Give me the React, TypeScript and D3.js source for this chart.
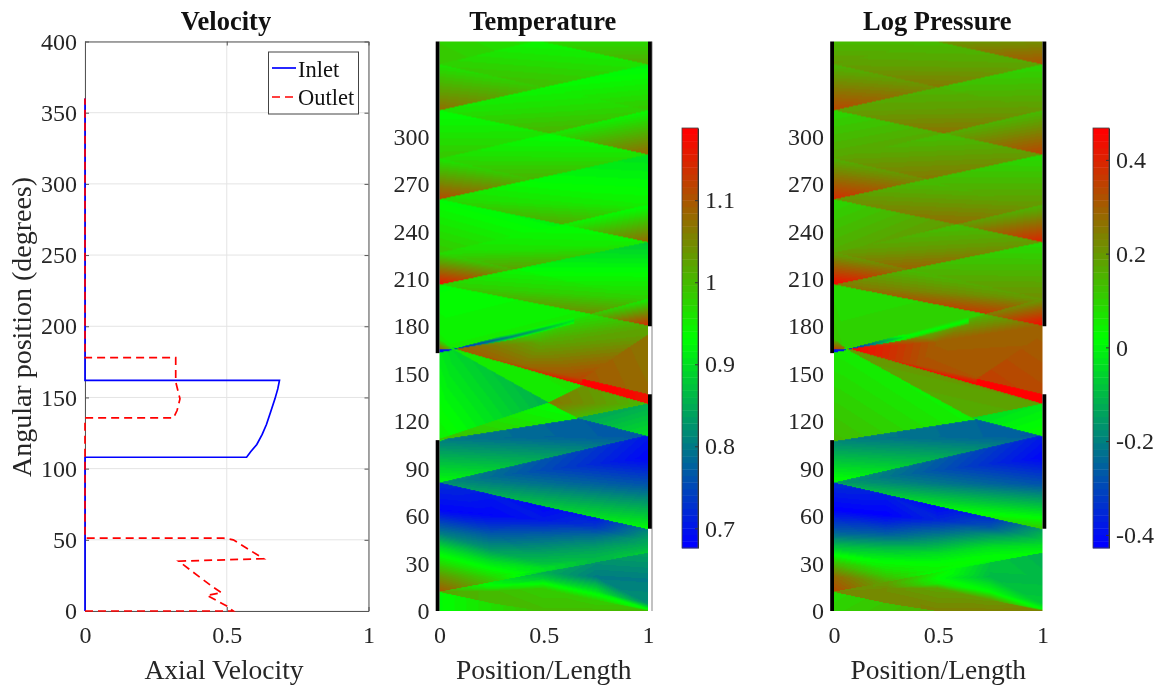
import React, { useEffect, useMemo, useRef } from 'react';
import { axisBottom, axisLeft, axisRight, axisTop, line, range, rgb, scaleLinear, select } from 'd3';

// ---- velocity profiles: [axial velocity, angle in degrees]
const inletVelocity = [
  [0, 0], [0, 108], [0.57, 108], [0.585, 112], [0.606, 117], [0.625, 124], [0.64, 131], [0.655, 140], [0.67, 149], [0.68, 156], [0.686, 162],
  [0, 162], [0, 360],
];
const outletVelocity = [
  [0, 0], [0.523, 0], [0.5, 3.5], [0.43, 11], [0.482, 12.8], [0.45, 17], [0.33, 35], [0.63, 36.7], [0.523, 50], [0.488, 51.2],
  [0, 51.2], [0, 135.6], [0.312, 135.6], [0.325, 141], [0.335, 149], [0.32, 161], [0.32, 178], [0, 178], [0, 360],
];

const velocityXTicks = [0, 0.5, 1];
const velocityYTicks = [0, 50, 100, 150, 200, 250, 300, 350, 400];
const angleTicks = [0, 30, 60, 90, 120, 150, 180, 210, 240, 270, 300];
const positionTicks = [0, 0.5, 1];

// ---- port openings (black bars), degrees
const leftPorts = [[0, 108], [163, 360]];
const rightPorts = [[52, 137], [180, 360]];

// ---- wave diagram upper part: same shapes in both fields, corner values differ
const waveCells = [
  [[0.47, 360], [1, 360], [1, 345]],
  [[0, 360], [0.47, 360], [0, 345]],
  [[0, 345], [0.47, 360], [1, 345], [0.5, 330.5]],
  [[0, 345], [0, 316], [0.5, 330.5]],
  [[0.5, 330.5], [1, 345], [1, 316]],
  [[0, 316], [0.5, 330.5], [1, 316], [0.526, 301.3]],
  [[0.526, 301.3], [1, 316], [1, 288]],
  [[0, 316], [0, 285.5], [0.526, 301.3]],
  [[0, 285.5], [0.526, 301.3], [1, 288], [0.45, 272.4]],
  [[0, 285.5], [0.45, 272.4], [0, 259.6]],
  [[0, 259.6], [0.45, 272.4], [1, 256.4], [0.585, 243.8]],
  [[0.45, 272.4], [1, 288], [1, 256.4]],
  [[0.585, 243.8], [1, 256.4], [1, 232.6]],
  [[0, 259.6], [0, 226], [0.585, 243.8]],
  [[0, 226], [0.585, 243.8], [1, 232.6], [0.364, 215.4]],
  [[0, 226], [0.364, 215.4], [0, 205.6]],
  [[0.364, 215.4], [1, 232.6], [1, 197]],
  [[0, 205.6], [0.364, 215.4], [1, 197], [0.72, 187.2]],
  [[0.72, 187.2], [1, 197], [1, 180]],
  [[0, 205.6], [0.72, 187.2], [0.06, 165.3], [0, 172]],
  [[0, 172], [0.06, 165.3], [0, 165]],
  [[0, 108.4], [0.67, 122], [1, 110.9], [0, 80.9]],
  [[0, 80.9], [1, 110.9], [1, 97], [1, 80], [1, 51.7]],
  [[0, 12.2], [0, 0], [0.5, 0]],
];
const waveTemperature = [
  [0.97, 0.97, 1.02],
  [0.98, 0.96, 0.99],
  [0.98, 0.94, 0.96, 1.0],
  [0.96, 1.08, 0.99],
  [0.94, 0.92, 0.99],
  [0.96, 0.94, 0.98, 1.01],
  [0.96, 0.94, 1.09],
  [0.93, 0.99, 0.96],
  [0.97, 0.93, 0.96, 1.01],
  [0.96, 1.0, 1.12],
  [0.97, 0.93, 0.95, 1.02],
  [0.93, 0.9, 0.95],
  [0.95, 0.93, 1.09],
  [0.93, 0.99, 0.92],
  [0.97, 0.93, 0.95, 1.03],
  [0.97, 1.01, 1.18],
  [0.93, 0.88, 0.98],
  [0.98, 0.94, 0.98, 1.05],
  [0.99, 0.95, 1.15],
  [0.93, 0.95, 0.95, 0.95],
  [0.95, 1.0, 1.1],
  [0.8, 0.77, 0.76, 0.93],
  [0.82, 0.7, 0.68, 0.76, 0.93],
  [0.93, 0.93, 1.0],
];
const wavePressure = [
  [0.2, 0.22, 0.33],
  [0.14, 0.14, 0.2],
  [0.19, 0.14, 0.18, 0.26],
  [0.15, 0.35, 0.22],
  [0.14, 0.09, 0.2],
  [0.19, 0.15, 0.2, 0.27],
  [0.17, 0.14, 0.36],
  [0.09, 0.18, 0.17],
  [0.19, 0.13, 0.2, 0.26],
  [0.16, 0.22, 0.4],
  [0.21, 0.13, 0.2, 0.28],
  [0.14, 0.08, 0.2],
  [0.2, 0.15, 0.42],
  [0.09, 0.17, 0.2],
  [0.2, 0.13, 0.2, 0.3],
  [0.18, 0.25, 0.47],
  [0.15, 0.08, 0.22],
  [0.26, 0.14, 0.2, 0.38],
  [0.25, 0.2, 0.47],
  [0.08, 0.1, 0.1, 0.12],
  [0.12, 0.3, 0.38],
  [-0.2, -0.25, -0.27, 0.04],
  [-0.15, -0.38, -0.42, -0.28, 0.12],
  [0.08, 0.1, 0.16],
];

// ---- lower fans, sampled on columns of position
const fanX = [0, 0.25, 0.5, 0.75, 1];
const upperFanDeg = [
  [80.9, 64, 49.2, 40.7, 35.5, 30.2, 21.7, 12.2],
  [73.5, 60.8, 49.2, 38.6, 31.2, 27, 21.7, 18.3],
  [66.1, 57.7, 47.1, 36.5, 30.2, 27, 25.5, 24.5],
  [58.9, 53.4, 47.1, 40.7, 36.5, 33.4, 31.2, 30.4],
  [51.7, 49.2, 45, 41.8, 39.7, 38.2, 37.2, 36.5],
];
const upperFanTemperature = [
  [0.72, 0.68, 0.8, 0.89, 0.93, 0.97, 1.04, 1.1],
  [0.7, 0.68, 0.76, 0.83, 0.9, 0.93, 0.97, 0.99],
  [0.68, 0.7, 0.78, 0.84, 0.87, 0.9, 0.9, 0.88],
  [0.7, 0.73, 0.79, 0.83, 0.85, 0.86, 0.86, 0.86],
  [0.8, 0.82, 0.84, 0.85, 0.86, 0.87, 0.88, 0.88],
];
const upperFanPressure = [
  [-0.35, -0.43, -0.25, -0.09, 0.02, 0.13, 0.28, 0.34],
  [-0.38, -0.43, -0.27, -0.08, 0.02, 0.06, 0.12, 0.17],
  [-0.42, -0.36, -0.2, -0.04, 0.02, 0.04, 0.03, 0],
  [-0.35, -0.28, -0.15, -0.04, 0, 0.02, 0, -0.02],
  [-0.15, -0.12, -0.08, -0.04, -0.02, 0, 0.02, 0.02],
];
const lowerFanDeg = [
  [12.2, 12.2, 12.2, 12.2, 12.2],
  [18.3, 16.4, 14.3, 12.2, 5.1],
  [24.5, 20.7, 17.5, 14.3, 0],
  [30.4, 21.7, 12.2, 6.9, 0],
  [36.5, 19.6, 4.8, 1.2, 0],
];
const lowerFanTemperature = [
  [1.02, 1.02, 1.02, 1.02, 1.02],
  [0.92, 0.93, 0.96, 1.0, 1.0],
  [0.85, 0.88, 0.93, 0.98, 1.0],
  [0.82, 0.8, 0.91, 0.98, 1.0],
  [0.84, 0.8, 0.82, 0.93, 1.0],
];
const lowerFanPressure = [
  [0.22, 0.22, 0.22, 0.22, 0.22],
  [0.2, 0.2, 0.22, 0.22, 0.22],
  [0.05, 0.02, 0.05, 0.18, 0.24],
  [-0.08, -0.1, 0.02, 0.2, 0.24],
  [-0.12, -0.1, -0.07, 0.02, 0.25],
];

// ---- middle section, [position, angle, value]: differs between the two fields
const temperatureCells = [
  [[0.5, 170, 1.02], [0.07, 165.5, 1.1], [0.4, 176.5, 0.96], [0.72, 187.2, 0.96], [1, 180, 1.02], [1, 174, 1.03], [0.69, 146.5, 1.12], [0.4, 155.4, 1.08], [0.07, 165.5, 1.1]],
  [[0.69, 146.5, 1.1], [1, 174, 1.07], [1, 137, 1.08]],
  [[0.07, 165.5, 1.1], [0.4, 155.4, 1.08], [0.4, 153.1, 1.14]],
  [[0.4, 155.4, 1.08], [0.69, 146.5, 1.12], [0.69, 142.2, 1.2], [0.4, 153.1, 1.14]],
  [[0.69, 146.5, 1.2], [1, 137, 1.17], [1, 130.6, 1.17], [0.69, 142.2, 1.2]],
  [[0, 108.4, 0.95], [0, 163, 0.91], [0.07, 165.5, 0.89], [0.53, 131.7, 0.85]],
  [[0.07, 165.5, 0.95], [0.69, 142.2, 0.96], [0.53, 131.7, 0.95]],
  [[0, 108.4, 1.0], [0.53, 131.7, 0.93], [0.67, 122, 0.94]],
  [[0.53, 131.7, 1.07], [0.69, 142.2, 1.04], [1, 130.6, 1.0], [0.67, 122, 1.0]],
  [[0.67, 122, 0.84], [1, 130.6, 0.85], [1, 110.9, 0.9]],
  [[0.06, 165.3, 0.7], [0.35, 175.5, 0.95], [0.35, 173.5, 0.8], [0.35, 171.5, 0.95]],
  [[0.35, 175.5, 0.95], [0.64, 185.5, 0.95], [0.64, 183.5, 0.9], [0.35, 173.5, 0.8]],
  [[0.35, 173.5, 0.8], [0.64, 183.5, 0.9], [0.64, 181.5, 0.95], [0.35, 171.5, 0.95]],
  [[0, 163.5, 0.7], [0, 165.5, 0.7], [0.07, 165, 0.72]],
];
const pressureCells = [
  [[0.5, 170, 0.3], [0.07, 165.5, 0.47], [0.4, 176.5, 0.12], [0.72, 187.2, 0.15], [1, 180, 0.3], [1, 174, 0.3], [0.69, 146.5, 0.32], [0.4, 155.4, 0.33], [0.07, 165.5, 0.47]],
  [[0.69, 146.5, 0.36], [1, 174, 0.3], [1, 137, 0.34]],
  [[0.07, 165.5, 0.38], [0.4, 155.4, 0.33], [0.4, 153.1, 0.47]],
  [[0.4, 155.4, 0.33], [0.69, 146.5, 0.36], [0.69, 142.2, 0.5], [0.4, 153.1, 0.47]],
  [[0.69, 146.5, 0.5], [1, 137, 0.5], [1, 130.6, 0.5], [0.69, 142.2, 0.5]],
  [[0, 108.4, 0.14], [0, 163, 0.06], [0.07, 165.5, 0.05], [0.67, 122, 0.04]],
  [[0.07, 165.5, 0.2], [0.69, 142.2, 0.24], [1, 130.6, 0.19], [0.67, 122, 0.16]],
  [[0.67, 122, -0.04], [1, 130.6, -0.02], [1, 110.9, 0.04]],
  [[0.06, 165.3, -0.4], [0.35, 175.5, 0.1], [0.35, 173.5, 0], [0.35, 171.5, 0.12]],
  [[0.35, 175.5, 0.1], [0.64, 185.5, 0.08], [0.64, 183.5, 0.02], [0.35, 173.5, 0]],
  [[0.35, 173.5, 0], [0.64, 183.5, 0.02], [0.64, 181.5, 0.12], [0.35, 171.5, 0.12]],
  [[0, 163.5, -0.4], [0, 165.5, -0.4], [0.07, 165, -0.35]],
];

// ---- colour bars
const temperatureRange = [0.676, 1.188];
const pressureRange = [-0.428, 0.468];
const temperatureBarTicks = [0.7, 0.8, 0.9, 1, 1.1];
const pressureBarTicks = [-0.4, -0.2, 0, 0.2, 0.4];
const levels = 64;

const serif = '"Liberation Serif", "Times New Roman", serif';
const ink = '#262626';

// corner lists -> quads
function gridCells(xs, degs, vals) {
  const out = [];
  for (let i = 0; i < xs.length - 1; i++) {
    for (let j = 0; j < degs[i].length - 1; j++) {
      out.push([
        [xs[i], degs[i][j], vals[i][j]],
        [xs[i + 1], degs[i + 1][j], vals[i + 1][j]],
        [xs[i + 1], degs[i + 1][j + 1], vals[i + 1][j + 1]],
        [xs[i], degs[i][j + 1], vals[i][j + 1]],
      ]);
    }
  }
  return out;
}

function buildField(waveVals, upperVals, lowerVals, extra) {
  const wave = waveCells.map((cell, i) => cell.map((p, k) => [p[0], p[1], waveVals[i][k]]));
  return [...wave, ...gridCells(fanX, upperFanDeg, upperVals), ...gridCells(fanX, lowerFanDeg, lowerVals), ...extra];
}

function makeColormap([lo, hi]) {
  const colour = scaleLinear<string>().domain([lo, (lo + hi) / 2, hi]).range(['#0000ff', '#00ff00', '#ff0000']).clamp(true);
  // 64 flat steps like the colour bar
  const step = scaleLinear().domain([lo, hi]).range([0, levels - 1]).clamp(true);
  return { colour, toValue: (v) => colour(lo + ((hi - lo) * Math.round(step(v))) / (levels - 1)) };
}

// paints the gouraud cells into a canvas, returns a data url for <image>
function rasterize(cells, x, y, toValue) {
  const [x0, x1] = x.range();
  const [yb, yt] = y.range();
  const w = Math.round(x1 - x0);
  const h = Math.round(yb - yt);
  const canvas = document.createElement('canvas');
  canvas.width = w;
  canvas.height = h;
  const ctx = canvas.getContext('2d');
  const img = ctx.createImageData(w, h);
  const sx = scaleLinear().domain(x.domain()).range([0, w]);
  const sy = scaleLinear().domain(y.domain()).range([h, 0]);
  const cache = new Map();
  const colorOf = (v) => {
    const c = toValue(v);
    if (!cache.has(c)) cache.set(c, rgb(c));
    return cache.get(c);
  };
  for (const cell of cells) {
    const pts = cell.map((p) => [sx(p[0]), sy(p[1]), p[2]]);
    for (let t = 1; t < pts.length - 1; t++) {
      const [a, b, c] = [pts[0], pts[t], pts[t + 1]];
      const den = (b[1] - c[1]) * (a[0] - c[0]) + (c[0] - b[0]) * (a[1] - c[1]);
      if (Math.abs(den) < 1e-6) continue;
      const minX = Math.max(0, Math.floor(Math.min(a[0], b[0], c[0])) - 1);
      const maxX = Math.min(w - 1, Math.ceil(Math.max(a[0], b[0], c[0])) + 1);
      const minY = Math.max(0, Math.floor(Math.min(a[1], b[1], c[1])) - 1);
      const maxY = Math.min(h - 1, Math.ceil(Math.max(a[1], b[1], c[1])) + 1);
      for (let py = minY; py <= maxY; py++) {
        for (let px = minX; px <= maxX; px++) {
          const X = px + 0.5;
          const Y = py + 0.5;
          const l1 = ((b[1] - c[1]) * (X - c[0]) + (c[0] - b[0]) * (Y - c[1])) / den;
          const l2 = ((c[1] - a[1]) * (X - c[0]) + (a[0] - c[0]) * (Y - c[1])) / den;
          const l3 = 1 - l1 - l2;
          if (l1 < -0.02 || l2 < -0.02 || l3 < -0.02) continue;
          const col = colorOf(l1 * a[2] + l2 * b[2] + l3 * c[2]);
          const i = (py * w + px) * 4;
          img.data[i] = col.r;
          img.data[i + 1] = col.g;
          img.data[i + 2] = col.b;
          img.data[i + 3] = 255;
        }
      }
    }
  }
  ctx.putImageData(img, 0, 0);
  return canvas.toDataURL();
}

function Axis({ gen, transform, size = 24, labels = true, stroke = '#555' }) {
  const ref = useRef(null);
  useEffect(() => {
    const g = select(ref.current);
    g.call(gen);
    g.attr('font-family', serif).attr('font-size', size);
    g.select('.domain').attr('stroke', stroke).attr('stroke-width', 1);
    g.selectAll('.tick line').attr('stroke', stroke).attr('stroke-width', 1);
    g.selectAll('.tick text').attr('fill', ink).attr('display', labels ? null : 'none');
  }, [gen, size, labels, stroke]);
  return <g ref={ref} transform={transform} />;
}

function FieldPlot({ title, x0, x1, cells, cmap, rightLine }) {
  const x = useMemo(() => scaleLinear().domain([0, 1]).range([x0, x1]), [x0, x1]);
  const y = useMemo(() => scaleLinear().domain([0, 360]).range([611, 41.5]), []);
  const href = useMemo(() => rasterize(cells, x, y, cmap.toValue), [cells, x, y, cmap]);
  const xAxis = useMemo(() => axisBottom(x).tickValues(positionTicks).tickFormat(String).tickSize(0).tickPadding(15), [x]);
  const yAxis = useMemo(() => axisLeft(y).tickValues(angleTicks).tickFormat(String).tickSize(0).tickPadding(9), [y]);
  return (
    <g>
      {rightLine && <line x1={x1 + 4} x2={x1 + 4} y1={y(0)} y2={y(360)} stroke="#999" strokeWidth={1.2} />}
      <image href={href} x={x0} y={y(360)} width={x1 - x0} height={y(0) - y(360)} preserveAspectRatio="none" />
      {leftPorts.map((p, i) => (
        <rect key={i} x={x0 - 3.8} width={3.8} y={y(p[1])} height={y(p[0]) - y(p[1])} fill="#000" />
      ))}
      {rightPorts.map((p, i) => (
        <rect key={i} x={x1} width={3.8} y={y(p[1])} height={y(p[0]) - y(p[1])} fill="#000" />
      ))}
      <Axis gen={xAxis} transform={`translate(0,${y(0)})`} stroke="none" />
      <Axis gen={yAxis} transform={`translate(${x0 - 1},0)`} stroke="none" />
      <text x={(x0 + x1) / 2 - 1} y={30} textAnchor="middle" fontFamily={serif} fontWeight="bold" fontSize={26.5} fill="#111">{title}</text>
      <text x={(x0 + x1) / 2} y={679} textAnchor="middle" fontFamily={serif} fontSize={27.5} fill={ink}>Position/Length</text>
    </g>
  );
}

function ColorBar({ x0, width, domain, cmap, ticks }) {
  const y = useMemo(() => scaleLinear().domain(domain).range([548, 128]), [domain]);
  const bands = range(levels);
  const h = (548 - 128) / levels;
  const axis = useMemo(() => axisRight(y).tickValues(ticks).tickFormat(String).tickSizeInner(-3).tickSizeOuter(0).tickPadding(7), [y, ticks]);
  return (
    <g>
      {bands.map((k) => (
        <rect
          key={k}
          x={x0}
          width={width}
          y={548 - (k + 1) * h}
          height={h + 0.4}
          fill={cmap.colour(domain[0] + ((domain[1] - domain[0]) * k) / (levels - 1))}
        />
      ))}
      <rect x={x0} y={128} width={width} height={420} fill="none" stroke="#444" strokeWidth={0.8} />
      <Axis gen={axis} transform={`translate(${x0 + width},0)`} stroke="#333" />
    </g>
  );
}

function VelocityPlot() {
  const x = useMemo(() => scaleLinear().domain([0, 1]).range([85, 368.5]), []);
  const y = useMemo(() => scaleLinear().domain([0, 400]).range([611, 41.5]), []);
  const path = line().x((d) => x(d[0])).y((d) => y(d[1]));
  const xAxis = useMemo(() => axisBottom(x).tickValues(velocityXTicks).tickFormat(String).tickSizeInner(-4).tickSizeOuter(0).tickPadding(15), [x]);
  const yAxis = useMemo(() => axisLeft(y).tickValues(velocityYTicks).tickFormat(String).tickSizeInner(-4).tickSizeOuter(0).tickPadding(8), [y]);
  const topAxis = useMemo(() => axisTop(x).tickValues(velocityXTicks).tickSizeInner(-4).tickSizeOuter(0), [x]);
  const rightAxis = useMemo(() => axisRight(y).tickValues(velocityYTicks).tickSizeInner(-4).tickSizeOuter(0), [y]);
  return (
    <g>
      {velocityXTicks.map((t) => (
        <line key={t} x1={x(t)} x2={x(t)} y1={y(0)} y2={y(400)} stroke="#e4e4e4" strokeWidth={1} />
      ))}
      {velocityYTicks.map((t) => (
        <line key={t} x1={x(0)} x2={x(1)} y1={y(t)} y2={y(t)} stroke="#e4e4e4" strokeWidth={1} />
      ))}
      <Axis gen={xAxis} transform={`translate(0,${y(0)})`} />
      <Axis gen={yAxis} transform={`translate(${x(0)},0)`} />
      <Axis gen={topAxis} transform={`translate(0,${y(400)})`} labels={false} />
      <Axis gen={rightAxis} transform={`translate(${x(1)},0)`} labels={false} />
      <path d={path(inletVelocity)} fill="none" stroke="#0000ff" strokeWidth={1.7} />
      <path d={path(outletVelocity)} fill="none" stroke="#ff0000" strokeWidth={1.7} strokeDasharray="8 5" />
      <text x={226} y={30} textAnchor="middle" fontFamily={serif} fontWeight="bold" fontSize={26.5} fill="#111">Velocity</text>
      <text x={224} y={679} textAnchor="middle" fontFamily={serif} fontSize={27.5} fill={ink}>Axial Velocity</text>
      <text transform="translate(31,327) rotate(-90)" textAnchor="middle" fontFamily={serif} fontSize={28} fill={ink}>Angular position (degrees)</text>
      <g>
        <rect x={268.5} y={52} width={90} height={62} fill="#fff" stroke="#444" strokeWidth={1} />
        <line x1={272} x2={296} y1={68} y2={68} stroke="#0000ff" strokeWidth={1.7} />
        <line x1={272} x2={296} y1={97} y2={97} stroke="#ff0000" strokeWidth={1.7} strokeDasharray="8 5" />
        <text x={298} y={77} fontFamily={serif} fontSize={22.5} fill="#111">Inlet</text>
        <text x={298} y={105} fontFamily={serif} fontSize={22.5} fill="#111">Outlet</text>
      </g>
    </g>
  );
}

const temperatureMap = makeColormap(temperatureRange);
const pressureMap = makeColormap(pressureRange);
const temperatureField = buildField(waveTemperature, upperFanTemperature, lowerFanTemperature, temperatureCells);
const pressureField = buildField(wavePressure, upperFanPressure, lowerFanPressure, pressureCells);

export default function App() {
  return (
    <svg
      width={1165}
      height={690}
      style={{ position: 'absolute', left: 0, top: 0, background: '#fff', filter: 'blur(0.45px)' }}
    >
      <VelocityPlot />
      <FieldPlot title="Temperature" x0={439.5} x1={648} cells={temperatureField} cmap={temperatureMap} rightLine />
      <ColorBar x0={682} width={16} domain={temperatureRange} cmap={temperatureMap} ticks={temperatureBarTicks} />
      <FieldPlot title="Log Pressure" x0={834} x1={1042.5} cells={pressureField} cmap={pressureMap} rightLine={false} />
      <ColorBar x0={1093} width={16} domain={pressureRange} cmap={pressureMap} ticks={pressureBarTicks} />
    </svg>
  );
}
